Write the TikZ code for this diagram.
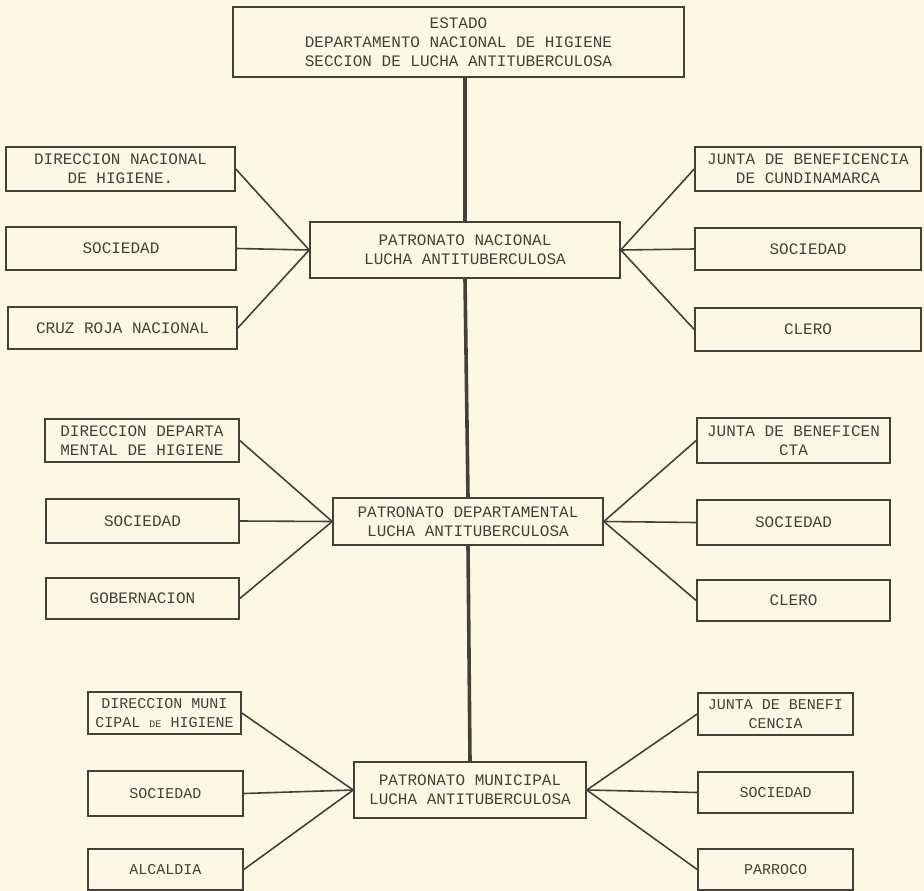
\documentclass[tikz,border=0pt]{standalone}
\usepackage{fontspec}
\newfontfamily\lett{Liberation Mono}
\definecolor{paper}{HTML}{FBF9E6}
\definecolor{ink}{HTML}{45413A}
\tikzset{
  box/.style={draw=ink, line width=1.6pt, fill=paper, align=center, inner sep=0pt,
    text=ink, font=\lett\fontsize{16}{19}\selectfont},
  small/.style={font=\lett\fontsize{15}{19}\selectfont},
  fan/.style={draw=ink, line width=1.6pt},
  trunk/.style={draw=ink, line width=3.6pt}
}
\begin{document}
\begin{tikzpicture}[x=1pt,y=-1pt]
\useasboundingbox[fill=paper] (0,0) rectangle (924,891);
% trunk boxes
\node[box, minimum width=451, minimum height=70] (top) at (458.5,42) {ESTADO\\DEPARTAMENTO NACIONAL DE HIGIENE\\SECCION DE LUCHA  ANTITUBERCULOSA};
\node[box, minimum width=310, minimum height=56] (pn) at (465,250) {PATRONATO NACIONAL\\LUCHA ANTITUBERCULOSA};
\node[box, minimum width=270, minimum height=47] (pd) at (468,521.5) {PATRONATO DEPARTAMENTAL\\LUCHA ANTITUBERCULOSA};
\node[box, minimum width=232, minimum height=56] (pm) at (470,790) {PATRONATO MUNICIPAL\\LUCHA ANTITUBERCULOSA};
% row 1
\node[box, minimum width=229, minimum height=44] (l1a) at (120.5,169) {DIRECCION NACIONAL\\DE HIGIENE.};
\node[box, minimum width=230, minimum height=43] (l1b) at (121,248.5) {SOCIEDAD};
\node[box, minimum width=229, minimum height=42] (l1c) at (122.5,328) {CRUZ ROJA NACIONAL};
\node[box, minimum width=226, minimum height=44] (r1a) at (808,169) {JUNTA DE BENEFICENCIA\\DE CUNDINAMARCA};
\node[box, minimum width=226, minimum height=42] (r1b) at (808,249) {SOCIEDAD};
\node[box, minimum width=226, minimum height=43] (r1c) at (808,329.5) {CLERO};
% row 2
\node[box, minimum width=194, minimum height=43] (l2a) at (142,440.5) {DIRECCION DEPARTA\\MENTAL DE HIGIENE};
\node[box, minimum width=193, minimum height=44] (l2b) at (142.5,521) {SOCIEDAD};
\node[box, minimum width=193, minimum height=41] (l2c) at (142.5,598.5) {GOBERNACION};
\node[box, minimum width=193, minimum height=45] (r2a) at (793.5,440.5) {JUNTA DE BENEFICEN\\CTA};
\node[box, minimum width=193, minimum height=45] (r2b) at (793.5,522.5) {SOCIEDAD};
\node[box, minimum width=193, minimum height=41] (r2c) at (793.5,600.5) {CLERO};
% row 3
\node[box, small, minimum width=153, minimum height=42] (l3a) at (164.5,713) {DIRECCION MUNI\\CIPAL {\fontsize{10}{10}\selectfont DE} HIGIENE};
\node[box, small, minimum width=155, minimum height=45] (l3b) at (165.5,793.5) {SOCIEDAD};
\node[box, small, minimum width=155, minimum height=41] (l3c) at (165.5,869.5) {ALCALDIA};
\node[box, small, minimum width=155, minimum height=42] (r3a) at (775.5,714) {JUNTA DE BENEFI\\CENCIA};
\node[box, small, minimum width=155, minimum height=41] (r3b) at (775.5,792.5) {SOCIEDAD};
\node[box, small, minimum width=155, minimum height=41] (r3c) at (775.5,869.5) {PARROCO};
% trunk
\draw[trunk] (pn.north) -- (pn.north |- top.south);
\draw[trunk] (pd.north) -- (pn.south);
\draw[trunk] (pm.north) -- (pd.south);
% fans
\foreach \a/\b in {l1a/pn, l1b/pn, l1c/pn, l2a/pd, l2b/pd, l2c/pd, l3a/pm, l3b/pm, l3c/pm}
  \draw[fan] (\a.east) -- (\b.west);
\foreach \a/\b in {pn/r1a, pn/r1b, pn/r1c, pd/r2a, pd/r2b, pd/r2c, pm/r3a, pm/r3b, pm/r3c}
  \draw[fan] (\a.east) -- (\b.west);
\end{tikzpicture}
\end{document}
